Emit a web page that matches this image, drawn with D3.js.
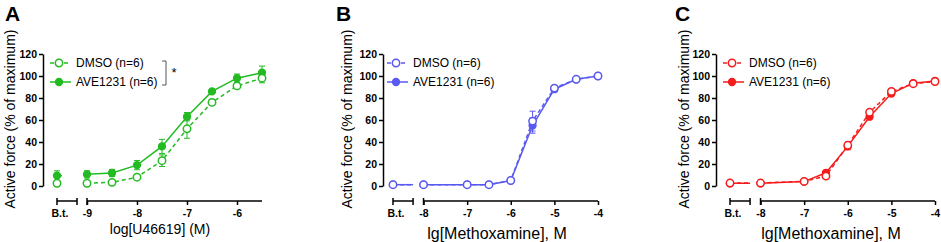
<!DOCTYPE html>
<html lang="en">
<head>
<meta charset="UTF-8">
<title>Active force curves</title>
<script src="https://d3js.org/d3.v7.min.js"></script>
<style>
    body { margin: 0; background: #fff; }
    text { font-family: "Liberation Sans", Arial, sans-serif; }
</style>
</head>
<body>
<script>
    // panel A: U46619
    var aDoses = [-9, -8.5, -8, -7.5, -7, -6.5, -6, -5.5];
    var aDmso = [2.5, 3.3, 8, 23, 52, 76, 91, 98];
    var aDmsoErr = [1, 1, 1.5, 5.3, 8.6, 2.7, 2.4, 4.2];
    var aAve = [10.6, 11.8, 19, 36, 63, 86, 98, 103];
    var aAveErr = [3.3, 3.3, 4.2, 6.4, 3.8, 1.2, 3.8, 6];
    var aBtDmso = [2.5, 1];
    var aBtAve = [9.4, 4.4];
    var aTicks = [-9, -8, -7, -6];

    // panel B: methoxamine
    var bDoses = [-8, -7, -6.5, -6, -5.5, -5, -4.5, -4];
    var bDmso = [1.2, 1.2, 1.2, 5, 59, 89, 97, 100];
    var bDmsoErr = [0.5, 0.5, 0.5, 1, 9, 2, 1, 1];
    var bAve = [1.2, 1.2, 1.2, 5, 55, 88, 97, 100];
    var bAveErr = [0.5, 0.5, 0.5, 1, 7, 1.5, 1, 1];
    var bBtDmso = [1.2, 0.5];
    var bBtAve = [1.2, 0.5];

    // panel C: methoxamine
    var cDoses = [-8, -7, -6.5, -6, -5.5, -5, -4.5, -4];
    var cDmso = [2.7, 4.2, 9, 37, 67, 86, 93, 95];
    var cDmsoErr = [0.5, 0.8, 1.5, 3, 2.5, 2, 1, 1];
    var cAve = [2.5, 4, 12, 36, 63, 84, 93.5, 95.5];
    var cAveErr = [0.5, 0.8, 1.5, 3, 2, 1.5, 1, 1];
    var cBtDmso = [2.7, 0.5];
    var cBtAve = [2.5, 0.5];
    var bcTicks = [-8, -7, -6, -5, -4];

    var yTicks = [0, 20, 40, 60, 80, 100, 120];
    var legendLabels = ["DMSO (n=6)", "AVE1231 (n=6)"];

    var svg = d3.select("body").append("svg")
        .attr("width", 941)
        .attr("height", 242);

    function drawPanel(p) {
        var g = svg.append("g");
        var x = d3.scaleLinear().domain(p.domain).range(p.range);
        var y = d3.scaleLinear().domain([0, 120]).range([186, 54]);
        var axisY = 201;

        // panel letter
        g.append("text")
            .attr("x", p.letterX).attr("y", 21)
            .style("font-size", "21px").style("font-weight", "bold")
            .text(p.letter);

        // y axis
        var ya = g.append("g")
            .attr("transform", "translate(" + p.yAxisX + ",0)")
            .call(d3.axisLeft(y).tickValues(yTicks).tickSizeInner(4).tickSizeOuter(0).tickPadding(2));
        ya.selectAll("path, line").attr("stroke", "#000").attr("stroke-width", 1.5);
        ya.selectAll("text").style("font-size", "10.5px").style("font-weight", "bold")
            .style("font-family", "Liberation Sans, Arial, sans-serif").attr("fill", "#000");

        g.append("text")
            .attr("transform", "translate(" + p.yTitleX + ",119) rotate(-90)")
            .attr("text-anchor", "middle")
            .attr("dy", "0.35em")
            .style("font-size", "14px")
            .text("Active force (% of maximum)");

        // x axis main segment
        var xa = g.append("g")
            .attr("transform", "translate(0," + axisY + ")")
            .call(d3.axisBottom(x).tickValues(p.ticks).tickFormat(function (d) { return String(d); })
                .tickSizeInner(4).tickSizeOuter(0).tickPadding(5));
        xa.select(".domain").attr("d", "M" + x(p.ticks[0]) + ",0H" + x(p.domain[1]));
        xa.selectAll("path, line").attr("stroke", "#000").attr("stroke-width", 1.5);
        xa.selectAll("text").style("font-size", "10.5px").style("font-weight", "bold")
            .style("font-family", "Liberation Sans, Arial, sans-serif").attr("fill", "#000");
        xa.append("line")
            .attr("x1", x(p.ticks[0])).attr("x2", x(p.ticks[0]))
            .attr("y1", -3).attr("y2", 4)
            .attr("stroke", "#000").attr("stroke-width", 1.5);

        // B.t. segment
        var bt = g.append("g").attr("transform", "translate(0," + axisY + ")");
        bt.append("line")
            .attr("x1", x(p.bt[0])).attr("x2", x(p.bt[1]))
            .attr("y1", 0).attr("y2", 0);
        p.bt.forEach(function (v) {
            bt.append("line")
                .attr("x1", x(v)).attr("x2", x(v))
                .attr("y1", -3).attr("y2", 4);
        });
        bt.selectAll("line").attr("stroke", "#000").attr("stroke-width", 1.5);
        bt.append("text")
            .attr("x", x(p.bt[0]) + 3).attr("y", 16)
            .attr("text-anchor", "middle")
            .style("font-size", "10.5px").style("font-weight", "bold")
            .text("B.t.");

        g.append("text")
            .attr("x", p.xTitleX).attr("y", p.xTitleY)
            .attr("text-anchor", "middle")
            .style("font-size", p.xTitleSize)
            .text(p.xTitle);

        // series: AVE first, DMSO on top
        var series = [
            { vals: p.ave, errs: p.aveErr, btv: p.btAve, open: false, dash: null },
            { vals: p.dmso, errs: p.dmsoErr, btv: p.btDmso, open: true, dash: "4,3" }
        ];
        var line = d3.line().x(function (d) { return x(d[0]); }).y(function (d) { return y(d[1]); });

        series.forEach(function (s) {
            var pts = p.doses.map(function (d, i) { return [d, s.vals[i], s.errs[i]]; });
            var btPt = [p.bt[0], s.btv[0], s.btv[1]];

            // small stub from B.t. point
            g.append("path")
                .datum([btPt, [p.btLineEnd, s.btv[0]]])
                .attr("d", line)
                .attr("fill", "none").attr("stroke", p.color).attr("stroke-width", 1.5)
                .attr("stroke-dasharray", s.dash);

            g.append("path")
                .datum(pts)
                .attr("d", line)
                .attr("fill", "none").attr("stroke", p.color).attr("stroke-width", 1.5)
                .attr("stroke-dasharray", s.dash);

            var all = [btPt].concat(pts);
            var eb = g.append("g").attr("stroke", p.color).attr("stroke-width", 1);
            all.forEach(function (d) {
                var cx = x(d[0]), y0 = y(d[1] - d[2]), y1 = y(d[1] + d[2]);
                eb.append("line").attr("x1", cx).attr("x2", cx).attr("y1", y0).attr("y2", y1);
                eb.append("line").attr("x1", cx - 3).attr("x2", cx + 3).attr("y1", y0).attr("y2", y0);
                eb.append("line").attr("x1", cx - 3).attr("x2", cx + 3).attr("y1", y1).attr("y2", y1);
            });

            g.selectAll(null)
                .data(all)
                .enter().append("circle")
                .attr("cx", function (d) { return x(d[0]); })
                .attr("cy", function (d) { return y(d[1]); })
                .attr("r", s.open ? 3.7 : 3.4)
                .attr("fill", s.open ? "#fff" : p.color)
                .attr("stroke", p.color)
                .attr("stroke-width", 1.5);
        });

        // legend
        var lg = g.append("g").attr("transform", "translate(" + p.legendX + ",0)");
        [63, 82].forEach(function (ly, i) {
            var open = i === 0;
            lg.append("line")
                .attr("x1", 0).attr("x2", 21).attr("y1", ly).attr("y2", ly)
                .attr("stroke", p.color).attr("stroke-width", 1.5)
                .attr("stroke-dasharray", open ? "4,3" : null);
            lg.append("circle")
                .attr("cx", 9).attr("cy", ly).attr("r", open ? 3.7 : 3.4)
                .attr("fill", open ? "#fff" : p.color)
                .attr("stroke", p.color).attr("stroke-width", 1.5);
            lg.append("text")
                .attr("x", 26).attr("y", ly + 4.3)
                .style("font-size", "12px")
                .text(legendLabels[i]);
        });

        if (p.bracket) {
            g.append("path")
                .attr("d", "M162,61H166V85H162")
                .attr("fill", "none").attr("stroke", "#555").attr("stroke-width", 1);
            g.append("text")
                .attr("x", 174).attr("y", 77)
                .attr("text-anchor", "middle")
                .style("font-size", "13px")
                .text("*");
        }
    }

    drawPanel({
        letter: "A", letterX: 5, color: "#22bb22",
        doses: aDoses, dmso: aDmso, dmsoErr: aDmsoErr, ave: aAve, aveErr: aAveErr,
        btDmso: aBtDmso, btAve: aBtAve,
        ticks: aTicks, domain: [-9.6, -5.5], range: [57, 262],
        bt: [-9.6, -9.2], btLineEnd: -9.5,
        yAxisX: 43, yTitleX: 10,
        xTitle: "log[U46619] (M)", xTitleX: 160, xTitleY: 234, xTitleSize: "14px",
        legendX: 50, bracket: true
    });

    drawPanel({
        letter: "B", letterX: 336, color: "#5a5af2",
        doses: bDoses, dmso: bDmso, dmsoErr: bDmsoErr, ave: bAve, aveErr: bAveErr,
        btDmso: bBtDmso, btAve: bBtAve,
        ticks: bcTicks, domain: [-8.7, -4], range: [393, 598],
        bt: [-8.7, -8.24], btLineEnd: -8.24,
        yAxisX: 383, yTitleX: 347,
        xTitle: "lg[Methoxamine], M", xTitleX: 497, xTitleY: 239, xTitleSize: "16px",
        legendX: 387, bracket: false
    });

    drawPanel({
        letter: "C", letterX: 675, color: "#f51c1c",
        doses: cDoses, dmso: cDmso, dmsoErr: cDmsoErr, ave: cAve, aveErr: cAveErr,
        btDmso: cBtDmso, btAve: cBtAve,
        ticks: bcTicks, domain: [-8.7, -4], range: [730, 935],
        bt: [-8.7, -8.24], btLineEnd: -8.24,
        yAxisX: 716, yTitleX: 684,
        xTitle: "lg[Methoxamine], M", xTitleX: 831, xTitleY: 239, xTitleSize: "16px",
        legendX: 723, bracket: false
    });
</script>
</body>
</html>
